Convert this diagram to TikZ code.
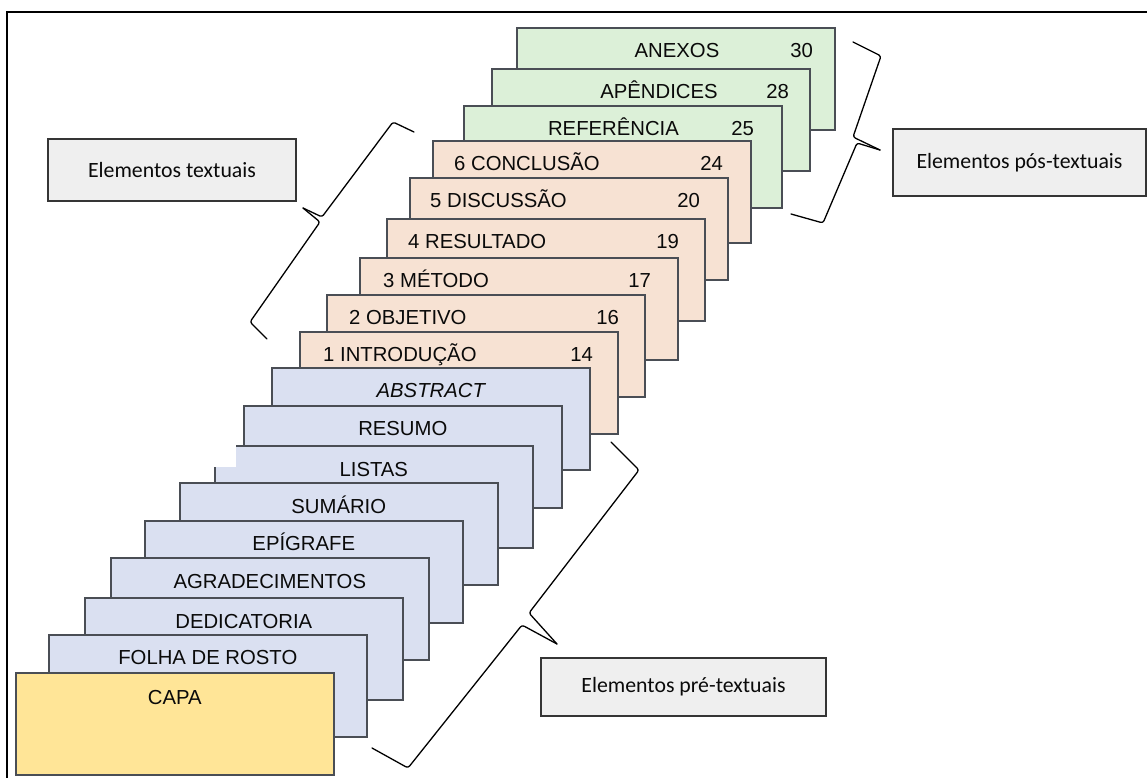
\documentclass[tikz,border=0pt]{standalone}
\usepackage{fontspec}
\setmainfont{Liberation Sans}
\newfontfamily\calib{Carlito}
\definecolor{pgline}{HTML}{4A4E55}
\definecolor{pgblue}{HTML}{DAE0F1}
\definecolor{pgorange}{HTML}{F7E2D3}
\definecolor{pggreen}{HTML}{DCF0D8}
\definecolor{pgyellow}{HTML}{FFE597}
\definecolor{boxfill}{HTML}{EFEFEF}
\definecolor{boxline}{HTML}{353535}
\definecolor{txt}{HTML}{0A0A0A}
\begin{document}
\begin{tikzpicture}[x=1pt,y=-1pt,
  page/.style={draw=pgline, line width=1.6pt, minimum width=318pt, minimum height=102pt, anchor=north west, inner sep=0pt},
  bluepg/.style={page, fill=pgblue},
  orangepg/.style={page, fill=pgorange},
  greenpg/.style={page, fill=pggreen},
  yellowpg/.style={page, fill=pgyellow},
  lbl/.style={font=\fontsize{20.3}{24}\selectfont, text=txt, inner sep=0pt, anchor=base},
  lblw/.style={lbl, anchor=base west},
  tagbox/.style={draw=boxline, line width=1.6pt, fill=boxfill, font=\calib\fontsize{21.8}{26}\selectfont, text=txt, inner sep=0pt},
  brace/.style={draw=black, line width=1.3pt, rounded corners=2.5pt, line cap=round, line join=round}]
\useasboundingbox (0,0) rectangle (1147,778);
% frame
\coordinate (f1) at (7,778);
\coordinate (f2) at (7,12);
\coordinate (f3) at (1147,12);
\draw[line width=2.2pt, black] (f1) -- (f2) -- (f3);

% green pages
\node[greenpg] (anx) at (516,27) {};
\node[lbl] at ([xshift=161pt,yshift=-30.5pt]anx.north west) {ANEXOS};
\node[lbl] at ([xshift=-34pt,yshift=-30.5pt]anx.north east) {30};
\node[greenpg] (apd) at (491,68) {};
\node[lbl] at ([xshift=168pt,yshift=-30.5pt]apd.north west) {APÊNDICES};
\node[lbl] at ([xshift=-33pt,yshift=-30.5pt]apd.north east) {28};
\node[greenpg] (ref) at (463,105) {};
\node[lbl] at ([xshift=150.5pt,yshift=-30.5pt]ref.north west) {REFERÊNCIA};
\node[lbl] at ([xshift=-40pt,yshift=-30.5pt]ref.north east) {25};

% orange pages
\node[orangepg] (c6) at (432,140) {};
\node[lblw] at ([xshift=22pt,yshift=-30.5pt]c6.north west) {6 CONCLUSÃO};
\node[lbl] at ([xshift=-40pt,yshift=-30.5pt]c6.north east) {24};
\node[orangepg] (c5) at (409,177) {};
\node[lblw] at ([xshift=21pt,yshift=-30.5pt]c5.north west) {5 DISCUSSÃO};
\node[lbl] at ([xshift=-40pt,yshift=-30.5pt]c5.north east) {20};
\node[orangepg] (c4) at (386,218) {};
\node[lblw] at ([xshift=22pt,yshift=-30.5pt]c4.north west) {4 RESULTADO};
\node[lbl] at ([xshift=-38pt,yshift=-30.5pt]c4.north east) {19};
\node[orangepg] (c3) at (359,257) {};
\node[lblw] at ([xshift=24pt,yshift=-30.5pt]c3.north west) {3 MÉTODO};
\node[lbl] at ([xshift=-39pt,yshift=-30.5pt]c3.north east) {17};
\node[orangepg] (c2) at (326,294) {};
\node[lblw] at ([xshift=23pt,yshift=-30.5pt]c2.north west) {2 OBJETIVO};
\node[lbl] at ([xshift=-38pt,yshift=-30.5pt]c2.north east) {16};
\node[orangepg] (c1) at (299,331) {};
\node[lblw] at ([xshift=24pt,yshift=-30.5pt]c1.north west) {1 INTRODUÇÃO};
\node[lbl] at ([xshift=-37pt,yshift=-30.5pt]c1.north east) {14};

% blue pages
\node[bluepg] (abs) at (271,367) {};
\node[lbl] at ([yshift=-30.5pt]abs.north) {\itshape ABSTRACT};
\node[bluepg] (res) at (243,405) {};
\node[lbl] at ([yshift=-30.5pt]res.north) {RESUMO};
\node[bluepg] (lis) at (214,445) {};
\node[fill=white, inner sep=0pt, anchor=north west, minimum width=23pt, minimum height=23pt] (patch) at (212.5,443.5) {};
\node[lbl] at ([yshift=-31pt]lis.north) {LISTAS};
\node[bluepg] (sum) at (179,482) {};
\node[lbl] at ([yshift=-31pt]sum.north) {SUMÁRIO};
\node[bluepg] (epi) at (144,520) {};
\node[lbl] at ([yshift=-30.5pt]epi.north) {EPÍGRAFE};
\node[bluepg] (agr) at (110,557) {};
\node[lbl] at ([yshift=-31pt]agr.north) {AGRADECIMENTOS};
\node[bluepg] (ded) at (84,597) {};
\node[lbl] at ([yshift=-31pt]ded.north) {DEDICATORIA};
\node[bluepg] (fol) at (48,634) {};
\node[lbl] at ([yshift=-30.5pt]fol.north) {FOLHA DE ROSTO};
\node[yellowpg] (capa) at (15,672) {};
\node[lbl] at ([yshift=-32pt]capa.north) {CAPA};

% label boxes
\node[tagbox, minimum width=248pt, minimum height=62pt] (ttex) at (172,170) {Elementos textuais};
\node[tagbox, minimum width=253pt, minimum height=67pt] (tpos) at (1019.5,162.5) {Elementos pós-textuais};
\node[tagbox, minimum width=285pt, minimum height=58pt] (tpre) at (683.5,687) {Elementos pré-textuais};

% braces
\draw[brace] (414,132) -- (393,122) -- (322,217) -- (303,208);
\draw[brace] (303,208) -- (320,222) -- (250,322) -- (267,339);

\draw[brace] (853,42) -- (881,56) -- (853,137) -- (880,150);
\draw[brace] (880,150) -- (857,143) -- (823,223) -- (791,214);

\draw[brace] (611,442) -- (639,470) -- (529,613) -- (557,644);
\draw[brace] (557,644) -- (522,625) -- (408,768) -- (372,748);
\end{tikzpicture}
\end{document}
